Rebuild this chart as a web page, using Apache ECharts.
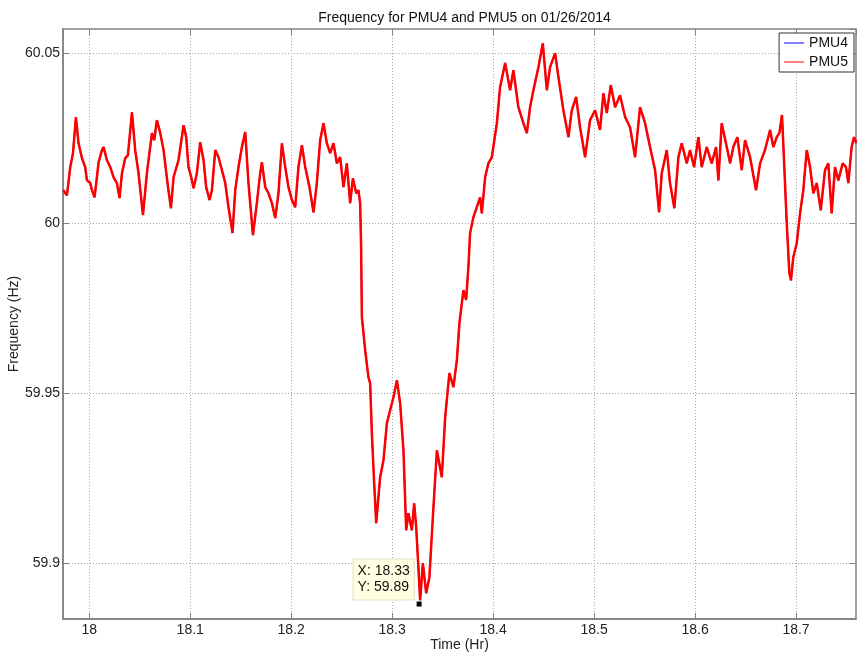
<!DOCTYPE html>
<html>
<head>
<meta charset="utf-8">
<title>Frequency for PMU4 and PMU5</title>
<script src="https://cdn.jsdelivr.net/npm/echarts@6/dist/echarts.min.js"></script>
<style>
  html, body { margin: 0; padding: 0; background: #fff; }
  #chart { width: 857px; height: 656px; }
</style>
</head>
<body>
<div id="chart"></div>
<script>
// time in hours
const times = [
  17.9743, 17.9779, 17.9812, 17.9839, 17.9868, 17.9894, 17.9928, 17.9960, 17.9977, 18.0010,
  18.0027, 18.0052, 18.0076, 18.0092, 18.0126, 18.0142, 18.0175, 18.0208, 18.0241, 18.0274,
  18.0300, 18.0324, 18.0356, 18.0383, 18.0423, 18.0455, 18.0488, 18.0532, 18.0571, 18.0621,
  18.0644, 18.0670, 18.0703, 18.0736, 18.0775, 18.0809, 18.0835, 18.0884, 18.0934, 18.0960,
  18.0983, 18.1010, 18.1033, 18.1066, 18.1099, 18.1132, 18.1158, 18.1191, 18.1215, 18.1248,
  18.1280, 18.1314, 18.1347, 18.1379, 18.1419, 18.1446, 18.1478, 18.1512, 18.1545, 18.1577,
  18.1621, 18.1660, 18.1693, 18.1710, 18.1743, 18.1775, 18.1809, 18.1842, 18.1874, 18.1908,
  18.1941, 18.1973, 18.2007, 18.2040, 18.2072, 18.2106, 18.2139, 18.2181, 18.2221, 18.2254,
  18.2287, 18.2320, 18.2353, 18.2386, 18.2419, 18.2452, 18.2485, 18.2518, 18.2551, 18.2584,
  18.2611, 18.2644, 18.2666, 18.2683, 18.2693, 18.2700, 18.2733, 18.2765, 18.2782, 18.2799,
  18.2822, 18.2842, 18.2881, 18.2914, 18.2948, 18.2980, 18.3013, 18.3047, 18.3079, 18.3112,
  18.3139, 18.3161, 18.3195, 18.3218, 18.3238, 18.3260, 18.3277, 18.3304, 18.3337, 18.3369,
  18.3403, 18.3443, 18.3492, 18.3525, 18.3567, 18.3607, 18.3641, 18.3666, 18.3706, 18.3733,
  18.3755, 18.3772, 18.3805, 18.3871, 18.3888, 18.3921, 18.3953, 18.3987, 18.4037, 18.4069,
  18.4119, 18.4168, 18.4201, 18.4250, 18.4300, 18.4334, 18.4366, 18.4399, 18.4449, 18.4492,
  18.4532, 18.4564, 18.4614, 18.4647, 18.4696, 18.4746, 18.4779, 18.4822, 18.4861, 18.4911,
  18.4960, 18.5010, 18.5059, 18.5092, 18.5126, 18.5165, 18.5208, 18.5257, 18.5307, 18.5356,
  18.5406, 18.5455, 18.5505, 18.5554, 18.5604, 18.5644, 18.5670, 18.5720, 18.5752, 18.5795,
  18.5835, 18.5868, 18.5918, 18.5950, 18.5990, 18.6033, 18.6066, 18.6116, 18.6165, 18.6208,
  18.6231, 18.6264, 18.6314, 18.6347, 18.6379, 18.6419, 18.6462, 18.6495, 18.6545, 18.6604,
  18.6644, 18.6693, 18.6743, 18.6775, 18.6809, 18.6835, 18.6861, 18.6881, 18.6908, 18.6934,
  18.6950, 18.6973, 18.7007, 18.7040, 18.7072, 18.7106, 18.7139, 18.7172, 18.7205, 18.7245,
  18.7287, 18.7320, 18.7353, 18.7386, 18.7419, 18.7462, 18.7495, 18.7518, 18.7551, 18.7574,
  18.7598
];

// PMU5 frequency (Hz)
const pmu5Freq = [
  60.0097, 60.0082, 60.0165, 60.0206, 60.0312, 60.0235, 60.0191, 60.0165, 60.0126, 60.0118,
  60.0097, 60.0076, 60.0135, 60.0179, 60.0215, 60.0224, 60.0185, 60.0165, 60.0135, 60.0118,
  60.0074, 60.0147, 60.0191, 60.0200, 60.0326, 60.0215, 60.0147, 60.0024, 60.0147, 60.0265,
  60.0244, 60.0303, 60.0265, 60.0215, 60.0118, 60.0044, 60.0135, 60.0185, 60.0288, 60.0253,
  60.0165, 60.0135, 60.0103, 60.0147, 60.0238, 60.0185, 60.0106, 60.0068, 60.0097, 60.0215,
  60.0194, 60.0156, 60.0118, 60.0047, 59.9971, 60.0097, 60.0165, 60.0224, 60.0268, 60.0118,
  59.9965, 60.0059, 60.0147, 60.0179, 60.0106, 60.0088, 60.0059, 60.0015, 60.0088, 60.0235,
  60.0165, 60.0106, 60.0068, 60.0047, 60.0165, 60.0229, 60.0165, 60.0106, 60.0032, 60.0118,
  60.0244, 60.0294, 60.0235, 60.0206, 60.0235, 60.0176, 60.0194, 60.0106, 60.0176, 60.0059,
  60.0132, 60.0088, 60.0097, 60.0059, 59.9921, 59.9724, 59.9626, 59.9547, 59.9529, 59.9382,
  59.9235, 59.9118, 59.9253, 59.9303, 59.9412, 59.9450, 59.9488, 59.9538, 59.9471, 59.9332,
  59.9097, 59.9147, 59.9097, 59.9176, 59.9106, 59.8988, 59.8891, 59.9000, 59.8912, 59.8959,
  59.9135, 59.9332, 59.9253, 59.9429, 59.9559, 59.9518, 59.9597, 59.9706, 59.9803, 59.9774,
  59.9871, 59.9971, 60.0018, 60.0076, 60.0029, 60.0135, 60.0176, 60.0194, 60.0294, 60.0400,
  60.0471, 60.0391, 60.0450, 60.0341, 60.0294, 60.0265, 60.0341, 60.0391, 60.0459, 60.0529,
  60.0391, 60.0459, 60.0500, 60.0429, 60.0332, 60.0253, 60.0332, 60.0371, 60.0282, 60.0194,
  60.0303, 60.0332, 60.0274, 60.0382, 60.0324, 60.0406, 60.0341, 60.0376, 60.0312, 60.0282,
  60.0194, 60.0341, 60.0294, 60.0224, 60.0156, 60.0032, 60.0147, 60.0215, 60.0118, 60.0044,
  60.0194, 60.0235, 60.0176, 60.0215, 60.0165, 60.0253, 60.0165, 60.0224, 60.0176, 60.0224,
  60.0126, 60.0294, 60.0224, 60.0176, 60.0224, 60.0253, 60.0156, 60.0244, 60.0194, 60.0097,
  60.0176, 60.0215, 60.0274, 60.0224, 60.0253, 60.0265, 60.0318, 60.0185, 60.0000, 59.9853,
  59.9832, 59.9900, 59.9941, 60.0029, 60.0097, 60.0215, 60.0165, 60.0088, 60.0118, 60.0038,
  60.0156, 60.0176, 60.0029, 60.0165, 60.0126, 60.0176, 60.0165, 60.0118, 60.0224, 60.0253,
  60.0235
];

// PMU4 lies on top of PMU5 to within a pixel, only a few blue specks show
const pmu4Freq = pmu5Freq;

// data tip at the lowest point
const tipPoint = [18.3267, 59.888];
const tipText = ['X: 18.33', 'Y: 59.89'];

const xRange = [17.974, 18.7594];
const yRange = [59.8836, 60.0571];

const pairs = (ys) => times.map((t, i) => [t, ys[i]]);

const font = 'Arial, "Liberation Sans", Helvetica, sans-serif';
const boxColor = '#808080';
const gridLine = { show: true, lineStyle: { color: '#a6a6a6', type: [1, 2], width: 1 } };
// plain line as legend key (matlab style)
const lineIcon = 'path://M0,0 L20,0 L20,1 L0,1 Z';

const chart = echarts.init(document.getElementById('chart'));
chart.setOption({
  animation: false,
  backgroundColor: '#fff',
  textStyle: { fontFamily: font },
  title: {
    text: 'Frequency for PMU4 and PMU5 on 01/26/2014',
    left: 459.5,
    textAlign: 'center',
    top: 6,
    textStyle: { fontSize: 14, fontWeight: 'normal', color: '#111', fontFamily: font }
  },
  legend: {
    orient: 'vertical',
    right: 3,
    top: 33,
    padding: [3, 6, 3, 5],
    itemWidth: 20,
    itemHeight: 14,
    itemGap: 5,
    symbolKeepAspect: true,
    backgroundColor: '#fff',
    borderColor: '#333',
    borderWidth: 1,
    textStyle: { fontSize: 14, color: '#111', fontFamily: font },
    data: [
      { name: 'PMU4', icon: lineIcon },
      { name: 'PMU5', icon: lineIcon }
    ]
  },
  grid: {
    left: 63, right: 1, top: 29, bottom: 37,
    outerBoundsMode: 'none',
    show: true, borderColor: boxColor, borderWidth: 1.5, backgroundColor: '#fff'
  },
  xAxis: [{
    type: 'value',
    min: xRange[0], max: xRange[1],
    splitNumber: 8,
    name: 'Time (Hr)',
    nameLocation: 'middle',
    nameGap: 19,
    nameMoveOverlap: false,
    nameTextStyle: { fontSize: 14, color: '#222', fontFamily: font },
    axisLine: { show: true, onZero: false, lineStyle: { color: boxColor, width: 1.5 } },
    axisTick: { show: true, inside: true, length: 6, lineStyle: { color: boxColor } },
    axisLabel: { fontSize: 14, color: '#222', margin: 4, showMinLabel: false, showMaxLabel: false },
    splitLine: gridLine
  }, {
    type: 'value', position: 'top',
    min: xRange[0], max: xRange[1], splitNumber: 8,
    axisLine: { show: false },
    axisTick: { show: true, inside: true, length: 6, lineStyle: { color: boxColor } },
    axisLabel: { show: false },
    splitLine: { show: false }
  }],
  yAxis: [{
    type: 'value',
    min: yRange[0], max: yRange[1],
    splitNumber: 4,
    name: 'Frequency (Hz)',
    nameLocation: 'middle',
    nameGap: 42,
    nameMoveOverlap: false,
    nameTextStyle: { fontSize: 14, color: '#222', fontFamily: font },
    axisLine: { show: true, onZero: false, lineStyle: { color: boxColor, width: 1.5 } },
    axisTick: { show: true, inside: true, length: 6, lineStyle: { color: boxColor } },
    axisLabel: { fontSize: 14, color: '#222', margin: 3, showMinLabel: false, showMaxLabel: false },
    splitLine: gridLine
  }, {
    type: 'value', position: 'right',
    min: yRange[0], max: yRange[1], splitNumber: 4,
    axisLine: { show: false },
    axisTick: { show: true, inside: true, length: 6, lineStyle: { color: boxColor } },
    axisLabel: { show: false },
    splitLine: { show: false }
  }],
  series: [
    {
      name: 'PMU4',
      type: 'line',
      symbol: 'none',
      data: pairs(pmu4Freq),
      lineStyle: { color: '#0000ff', width: 1.5 },
      itemStyle: { color: '#0000ff' },
      z: 2
    },
    {
      name: 'PMU5',
      type: 'line',
      symbol: 'none',
      data: pairs(pmu5Freq),
      lineStyle: { color: '#ff0000', width: 2.5 },
      itemStyle: { color: '#ff0000' },
      z: 3,
      markPoint: {
        symbol: 'rect',
        symbolSize: 5,
        itemStyle: { color: '#000' },
        data: [{
          coord: tipPoint,
          label: {
            show: true,
            formatter: tipText.join('\n'),
            position: [-63, -42],
            align: 'left',
            verticalAlign: 'top',
            fontSize: 14,
            lineHeight: 16,
            color: '#111',
            fontFamily: font,
            backgroundColor: '#ffffe1',
            borderColor: '#e0e0c0',
            borderWidth: 1,
            padding: [4, 4]
          }
        }]
      }
    }
  ]
});
</script>
</body>
</html>
